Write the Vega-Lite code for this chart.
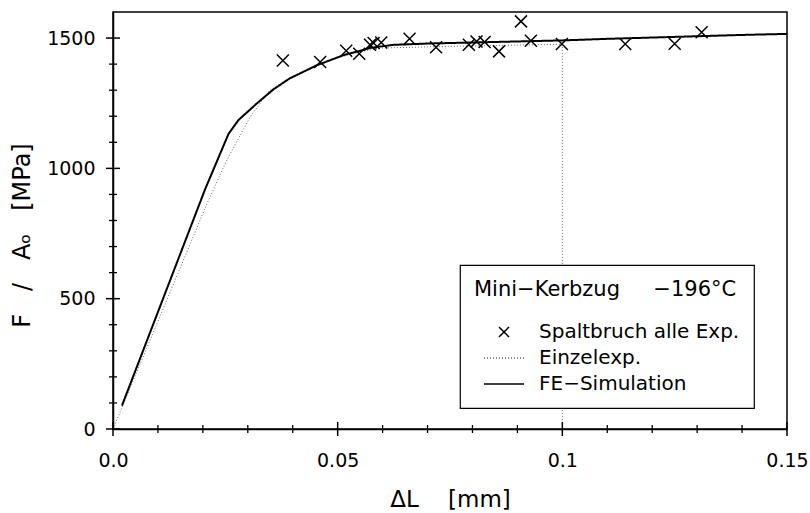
{
  "$schema": "https://vega.github.io/schema/vega-lite/v6.json",
  "width": 674,
  "height": 417,
  "autosize": {"type": "none"},
  "padding": {"left": 113, "top": 12, "right": 23, "bottom": 84},
  "background": "white",
  "config": {
    "view": {"stroke": "black", "strokeWidth": 1.5},
    "font": "DejaVu Sans",
    "axis": {
      "labelFont": "DejaVu Sans", "labelFontSize": 19, "labelColor": "black",
      "titleFont": "DejaVu Sans", "titleFontSize": 23, "titleFontWeight": "normal", "titleColor": "black",
      "grid": false, "labelOverlap": false, "labelFlush": false
    },
    "legend": {
      "orient": "none", "legendX": 347, "legendY": 253,
      "strokeColor": "black", "fillColor": "white", "strokeWidth": 1.2,
      "padding": 14, "cornerRadius": 0,
      "titleFont": "DejaVu Sans", "titleFontSize": 21, "titleFontWeight": "normal", "titleColor": "black", "titlePadding": 21, "titleLimit": 0,
      "labelFont": "DejaVu Sans", "labelFontSize": 20, "labelColor": "black", "labelLimit": 0,
      "symbolSize": 400, "symbolStrokeWidth": 1.5, "symbolOffset": 19, "labelOffset": 24, "rowPadding": 5
    }
  },
  "resolve": {"axis": {"x": "independent", "y": "independent"}},
  "datasets": {
    "pts": [
      {"dl": 0.0378, "s": 1414, "series": "Spaltbruch alle Exp."},
      {"dl": 0.0461, "s": 1408, "series": "Spaltbruch alle Exp."},
      {"dl": 0.0519, "s": 1451, "series": "Spaltbruch alle Exp."},
      {"dl": 0.0548, "s": 1440, "series": "Spaltbruch alle Exp."},
      {"dl": 0.0572, "s": 1474, "series": "Spaltbruch alle Exp."},
      {"dl": 0.0580, "s": 1481, "series": "Spaltbruch alle Exp."},
      {"dl": 0.0597, "s": 1483, "series": "Spaltbruch alle Exp."},
      {"dl": 0.0660, "s": 1497, "series": "Spaltbruch alle Exp."},
      {"dl": 0.0719, "s": 1465, "series": "Spaltbruch alle Exp."},
      {"dl": 0.0792, "s": 1474, "series": "Spaltbruch alle Exp."},
      {"dl": 0.0809, "s": 1487, "series": "Spaltbruch alle Exp."},
      {"dl": 0.0827, "s": 1485, "series": "Spaltbruch alle Exp."},
      {"dl": 0.0859, "s": 1449, "series": "Spaltbruch alle Exp."},
      {"dl": 0.0908, "s": 1564, "series": "Spaltbruch alle Exp."},
      {"dl": 0.0930, "s": 1490, "series": "Spaltbruch alle Exp."},
      {"dl": 0.0999, "s": 1477, "series": "Spaltbruch alle Exp."},
      {"dl": 0.1140, "s": 1477, "series": "Spaltbruch alle Exp."},
      {"dl": 0.1250, "s": 1478, "series": "Spaltbruch alle Exp."},
      {"dl": 0.1310, "s": 1522, "series": "Spaltbruch alle Exp."}
    ],
    "lines": [
      {"i": 0, "dl": 0.0, "s": 0, "series": "Einzelexp."},
      {"i": 1, "dl": 0.0209, "s": 864, "series": "Einzelexp."},
      {"i": 2, "dl": 0.0253, "s": 1031, "series": "Einzelexp."},
      {"i": 3, "dl": 0.0305, "s": 1197, "series": "Einzelexp."},
      {"i": 4, "dl": 0.0349, "s": 1300, "series": "Einzelexp."},
      {"i": 5, "dl": 0.0393, "s": 1343, "series": "Einzelexp."},
      {"i": 6, "dl": 0.0454, "s": 1394, "series": "Einzelexp."},
      {"i": 7, "dl": 0.050, "s": 1424, "series": "Einzelexp."},
      {"i": 8, "dl": 0.055, "s": 1448, "series": "Einzelexp."},
      {"i": 9, "dl": 0.060, "s": 1462, "series": "Einzelexp."},
      {"i": 10, "dl": 0.070, "s": 1466, "series": "Einzelexp."},
      {"i": 11, "dl": 0.080, "s": 1470, "series": "Einzelexp."},
      {"i": 12, "dl": 0.090, "s": 1473, "series": "Einzelexp."},
      {"i": 13, "dl": 0.100, "s": 1476, "series": "Einzelexp."},
      {"i": 14, "dl": 0.100, "s": 0, "series": "Einzelexp."},
      {"i": 0, "dl": 0.002, "s": 90, "series": "FE−Simulation"},
      {"i": 1, "dl": 0.0205, "s": 920, "series": "FE−Simulation"},
      {"i": 2, "dl": 0.0257, "s": 1132, "series": "FE−Simulation"},
      {"i": 3, "dl": 0.0279, "s": 1185, "series": "FE−Simulation"},
      {"i": 4, "dl": 0.032, "s": 1249, "series": "FE−Simulation"},
      {"i": 5, "dl": 0.0357, "s": 1303, "series": "FE−Simulation"},
      {"i": 6, "dl": 0.0393, "s": 1345, "series": "FE−Simulation"},
      {"i": 7, "dl": 0.0454, "s": 1396, "series": "FE−Simulation"},
      {"i": 8, "dl": 0.0514, "s": 1435, "series": "FE−Simulation"},
      {"i": 9, "dl": 0.0575, "s": 1463, "series": "FE−Simulation"},
      {"i": 10, "dl": 0.0625, "s": 1474, "series": "FE−Simulation"},
      {"i": 11, "dl": 0.070, "s": 1479, "series": "FE−Simulation"},
      {"i": 12, "dl": 0.080, "s": 1483, "series": "FE−Simulation"},
      {"i": 13, "dl": 0.090, "s": 1487, "series": "FE−Simulation"},
      {"i": 14, "dl": 0.100, "s": 1491, "series": "FE−Simulation"},
      {"i": 15, "dl": 0.110, "s": 1497, "series": "FE−Simulation"},
      {"i": 16, "dl": 0.120, "s": 1502, "series": "FE−Simulation"},
      {"i": 17, "dl": 0.130, "s": 1507, "series": "FE−Simulation"},
      {"i": 18, "dl": 0.140, "s": 1512, "series": "FE−Simulation"},
      {"i": 19, "dl": 0.150, "s": 1516, "series": "FE−Simulation"}
    ],
    "xticks": [
      {"v": 0, "kind": "major"}, {"v": 0.01, "kind": "minor"}, {"v": 0.02, "kind": "minor"}, {"v": 0.03, "kind": "minor"},
      {"v": 0.04, "kind": "minor"}, {"v": 0.05, "kind": "major"}, {"v": 0.06, "kind": "minor"}, {"v": 0.07, "kind": "minor"},
      {"v": 0.08, "kind": "minor"}, {"v": 0.09, "kind": "minor"}, {"v": 0.1, "kind": "major"}, {"v": 0.11, "kind": "minor"},
      {"v": 0.12, "kind": "minor"}, {"v": 0.13, "kind": "minor"}, {"v": 0.14, "kind": "minor"}, {"v": 0.15, "kind": "major"}
    ],
    "yticks": [
      {"v": 0, "kind": "major"}, {"v": 100, "kind": "minor"}, {"v": 200, "kind": "minor"}, {"v": 300, "kind": "minor"},
      {"v": 400, "kind": "minor"}, {"v": 500, "kind": "major"}, {"v": 600, "kind": "minor"}, {"v": 700, "kind": "minor"},
      {"v": 800, "kind": "minor"}, {"v": 900, "kind": "minor"}, {"v": 1000, "kind": "major"}, {"v": 1100, "kind": "minor"},
      {"v": 1200, "kind": "minor"}, {"v": 1300, "kind": "minor"}, {"v": 1400, "kind": "minor"}, {"v": 1500, "kind": "major"}
    ]
  },
  "layer": [
    {
      "data": {"name": "lines"},
      "mark": {"type": "line", "strokeCap": "butt"},
      "encoding": {
        "x": {
          "field": "dl", "type": "quantitative",
          "scale": {"domain": [0, 0.15], "nice": false, "zero": false},
          "axis": {
            "orient": "bottom",
            "title": "ΔL\u00a0\u00a0\u00a0\u00a0[mm]",
            "values": [0, 0.05, 0.1, 0.15],
            "domainColor": "black", "domainWidth": 1.5,
            "ticks": false,
            "labelExpr": "datum.value == 0 ? '0.0' : toString(round(datum.value*100)/100)",
            "labelPadding": 22,
            "titlePadding": 18
          }
        },
        "y": {
          "field": "s", "type": "quantitative",
          "scale": {"domain": [0, 1600], "nice": false, "zero": false},
          "axis": {
            "orient": "left",
            "title": "F\u00a0\u00a0\u00a0/\u00a0\u00a0\u00a0Aₒ\u00a0\u00a0\u00a0[MPa]",
            "titleFontSize": 24,
            "titleY": 223,
            "values": [0, 500, 1000, 1500],
            "domainColor": "black", "domainWidth": 1.5,
            "ticks": false,
            "labelExpr": "toString(datum.value)",
            "labelPadding": 18,
            "titlePadding": 12
          }
        },
        "order": {"field": "i", "type": "quantitative"},
        "detail": {"field": "series"},
        "strokeDash": {
          "field": "series", "type": "nominal",
          "scale": {"domain": ["Spaltbruch alle Exp.", "Einzelexp.", "FE−Simulation"], "range": [[1, 0], [1, 2], [1, 0]]},
          "legend": {"title": "Mini−Kerbzug\u00a0\u00a0\u00a0\u00a0\u00a0−196°C"}
        },
        "color": {
          "field": "series", "type": "nominal",
          "scale": {"domain": ["Spaltbruch alle Exp.", "Einzelexp.", "FE−Simulation"], "range": ["black", "#666666", "black"]},
          "legend": {"title": "Mini−Kerbzug\u00a0\u00a0\u00a0\u00a0\u00a0−196°C"}
        },
        "strokeWidth": {
          "condition": {"test": "datum.series == 'Einzelexp.'", "value": 1},
          "value": 2
        }
      }
    },
    {
      "data": {"name": "pts"},
      "mark": {"type": "point", "filled": false, "size": 576, "strokeWidth": 1.5, "opacity": 1},
      "encoding": {
        "x": {"field": "dl", "type": "quantitative", "axis": null},
        "y": {"field": "s", "type": "quantitative", "axis": null},
        "shape": {
          "field": "series", "type": "nominal",
          "scale": {"domain": ["Spaltbruch alle Exp.", "Einzelexp.", "FE−Simulation"], "range": ["M-0.5,-0.5L0.5,0.5M-0.5,0.5L0.5,-0.5", "M-2,0L2,0", "M-2,0L2,0"]},
          "legend": {"title": "Mini−Kerbzug\u00a0\u00a0\u00a0\u00a0\u00a0−196°C"}
        },
        "color": {
          "field": "series", "type": "nominal",
          "legend": {"title": "Mini−Kerbzug\u00a0\u00a0\u00a0\u00a0\u00a0−196°C"}
        }
      }
    },
    {
      "data": {"name": "xticks"},
      "transform": [{"filter": "datum.kind == 'major'"}],
      "mark": {"type": "tick", "orient": "vertical", "size": 14, "thickness": 1.5, "color": "black", "opacity": 1},
      "encoding": {
        "x": {"field": "v", "type": "quantitative", "axis": null},
        "y": {"datum": 0, "type": "quantitative", "axis": null}
      }
    },
    {
      "data": {"name": "xticks"},
      "transform": [{"filter": "datum.kind == 'minor'"}],
      "mark": {"type": "tick", "orient": "vertical", "size": 8, "thickness": 1.3, "color": "black", "opacity": 1},
      "encoding": {
        "x": {"field": "v", "type": "quantitative", "axis": null},
        "y": {"datum": 0, "type": "quantitative", "axis": null}
      }
    },
    {
      "data": {"name": "yticks"},
      "transform": [{"filter": "datum.kind == 'major'"}],
      "mark": {"type": "tick", "orient": "horizontal", "size": 14, "thickness": 1.5, "color": "black", "opacity": 1},
      "encoding": {
        "y": {"field": "v", "type": "quantitative", "axis": null},
        "x": {"datum": 0, "type": "quantitative", "axis": null}
      }
    },
    {
      "data": {"name": "yticks"},
      "transform": [{"filter": "datum.kind == 'minor'"}],
      "mark": {"type": "tick", "orient": "horizontal", "size": 8, "thickness": 1.3, "color": "black", "opacity": 1},
      "encoding": {
        "y": {"field": "v", "type": "quantitative", "axis": null},
        "x": {"datum": 0, "type": "quantitative", "axis": null}
      }
    }
  ]
}
